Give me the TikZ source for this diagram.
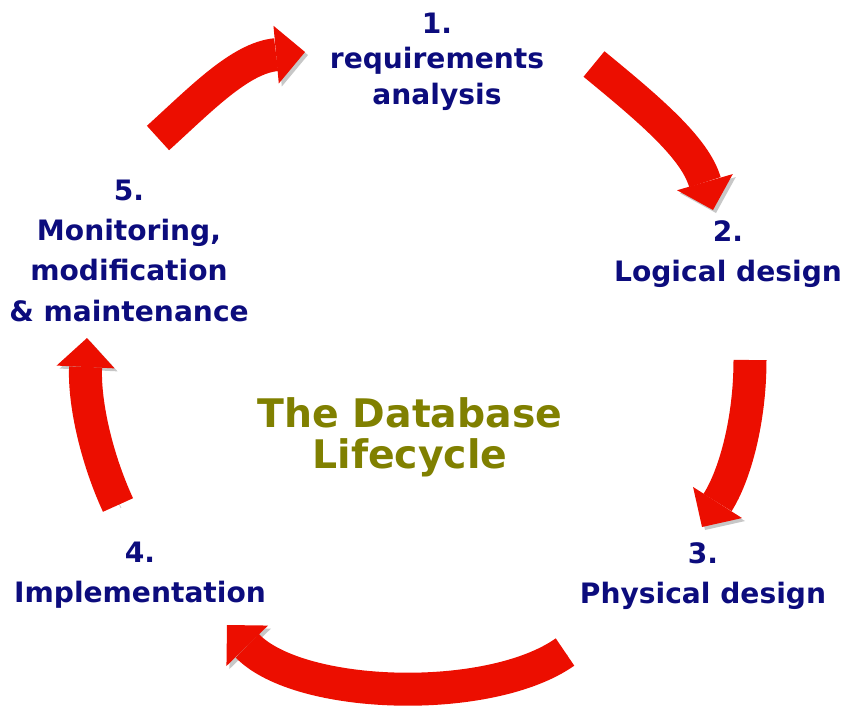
\documentclass[tikz,border=0pt]{standalone}
\usepackage{fontspec}
\setmainfont{DejaVu Sans}
\usetikzlibrary{arrows.meta}
\definecolor{stepblue}{RGB}{12,12,125}
\definecolor{titleolive}{RGB}{128,128,0}
\definecolor{arrowred}{RGB}{236,14,0}

\begin{document}
\begin{tikzpicture}[x=0.02cm, y=-0.02cm,
		steplabel/.style={text=stepblue, font=\bfseries\fontsize{16}{22.8}\selectfont, align=center, inner sep=0pt, anchor=north},
		cyclearrow/.style={draw=arrowred, line width=0.66cm, -{Triangle[width=1.16cm, length=0.58cm, line width'=0pt]},
			preaction={draw=black!22, transform canvas={shift={(0.06cm,-0.06cm)}}}}]
						\useasboundingbox (0,0) rectangle (845,707);

						\node[steplabel, font=\bfseries\fontsize{16}{20}\selectfont] (req) at (437,13) {1.\\requirements\\analysis};
						\node[steplabel] (logical) at (728,220) {2.\\Logical design};
						\node[steplabel] (physical) at (703,542) {3.\\Physical design};
						\node[steplabel] (impl) at (140,542) {4.\\Implementation};
						\node[steplabel] (monitor) at (129,180) {5.\\Monitoring,\\modification\\\& maintenance};
						\node[text=titleolive, font=\bfseries\fontsize{22.4}{23.3}\selectfont, align=center, inner sep=0pt, anchor=north] (title) at (410,397) {The Database\\Lifecycle};

						\coordinate (reqTail) at (158,138);
						\coordinate (reqTip) at (305,52);
						\coordinate (logicalTail) at (594,64);
						\coordinate (logicalTip) at (713,210);
						\coordinate (physicalTail) at (750,360);
						\coordinate (physicalTip) at (702,527);
						\coordinate (implTail) at (565,652);
						\coordinate (implTip) at (227,625);
						\coordinate (monitorTail) at (118,505);
						\coordinate (monitorTip) at (87,338);

						\draw[cyclearrow] (reqTail) .. controls (200,100) and (240,58) .. (reqTip);
						\draw[cyclearrow] (logicalTail) .. controls (650,110) and (695,148) .. (logicalTip);
						\draw[cyclearrow] (physicalTail) .. controls (750,420) and (735,475) .. (physicalTip);
						\draw[cyclearrow] (implTail) .. controls (490,705) and (300,700) .. (implTip);
						\draw[cyclearrow] (monitorTail) .. controls (95,455) and (84,400) .. (monitorTip);
					\end{tikzpicture}
\end{document}
